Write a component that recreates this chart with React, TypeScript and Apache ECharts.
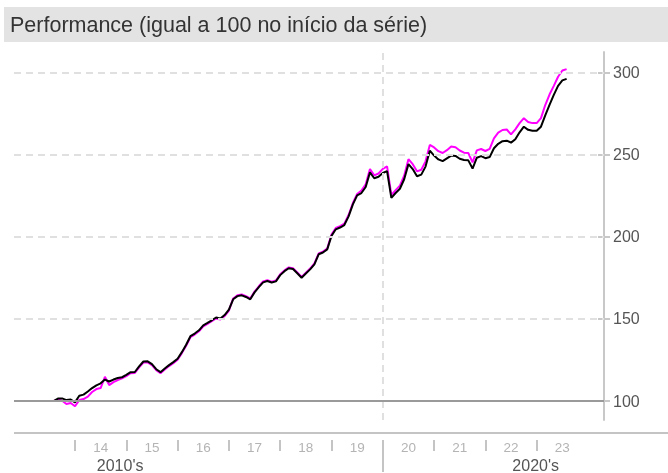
import { useEffect, useRef } from "react";
import * as echarts from "echarts";

// Monthly series, first point = Aug 2013
const START_YEAR = 2013;
const START_MONTH = 8;

const carteira = [
  100.0, 101.5, 101.6, 100.6, 100.9, 99.2, 103.2, 103.9, 105.8, 107.9, 109.6, 110.8,
  113.1, 111.9, 113.1, 114.0, 114.5, 115.9, 117.6, 117.7, 121.1, 124.1, 124.2, 122.5,
  119.4, 117.6, 119.8, 121.9, 123.7, 125.8, 129.8, 134.3, 139.5, 141.1, 143.1, 146.1,
  147.6, 149.2, 150.9, 150.3, 152.4, 155.7, 162.0, 163.9, 164.4, 163.4, 162.0, 166.2,
  169.4, 172.3, 173.1, 172.2, 172.9, 176.7, 179.1, 180.9, 180.4, 177.8, 175.1, 177.7,
  180.2, 183.3, 189.4, 190.5, 192.4, 200.6, 204.6, 205.7, 207.2, 212.5, 219.8, 225.3,
  226.7, 230.4, 239.3, 235.7, 236.6, 238.9, 240.0, 223.8, 226.7, 229.3, 235.1, 244.3,
  241.3, 236.9, 237.9, 242.8, 252.5, 249.5, 247.2, 246.1, 247.8, 249.5, 249.3, 247.6,
  246.8, 246.6, 241.6, 248.2, 249.2, 247.9, 248.6, 254.0, 256.7, 258.3, 258.6, 257.4,
  259.5, 263.7, 267.1, 265.2, 264.6, 264.6, 267.1, 274.0, 280.4, 286.5, 292.0, 295.3,
  296.2,
];

const referencia = [
  100.0, 100.8, 100.2, 98.2, 98.8, 96.8, 100.6, 101.2, 102.7, 105.5, 107.3, 107.9,
  114.8, 109.7, 111.5, 112.8, 113.8, 115.2, 117.0, 117.1, 120.5, 123.5, 123.6, 121.9,
  118.8, 117.0, 119.2, 121.3, 123.1, 125.2, 129.2, 133.7, 138.9, 140.5, 142.5, 145.5,
  147.0, 148.6, 150.3, 149.7, 151.8, 155.1, 162.5, 164.4, 164.9, 163.9, 162.5, 166.7,
  169.9, 172.8, 173.6, 172.7, 173.4, 177.2, 179.6, 181.4, 180.9, 178.3, 175.6, 178.2,
  180.7, 183.8, 189.9, 191.0, 192.9, 201.4, 205.4, 206.5, 208.0, 213.3, 220.6, 226.1,
  228.2, 232.0, 241.3, 237.5, 238.6, 241.4, 242.9, 225.5, 228.5, 231.2, 237.3, 247.3,
  244.3, 239.9, 240.9, 246.0, 256.0, 254.5, 252.2, 251.1, 252.8, 255.0, 254.6, 252.6,
  251.3, 251.1, 245.4, 252.7, 253.5, 252.3, 253.6, 260.0, 263.5, 265.1, 265.4, 262.4,
  265.5, 269.3, 272.3, 270.0, 269.3, 269.3, 272.3, 280.3, 286.7, 292.0, 297.5, 301.3,
  302.2,
];

const yTicks = [100, 150, 200, 250, 300];
const yearTicks = [2014, 2015, 2016, 2017, 2018, 2019, 2020, 2021, 2022, 2023];
const decadeBreak = 2020;
const decadeLabels = ["2010's", "2020's"];
const decadePositions = [2014.88, 2022.98];
const titleText = "Performance (igual a 100 no início da série)";

const X_MIN = 2012.811;
const X_MAX = 2024.312;
const Y_MIN = 88.46;
const Y_MAX = 312.6;

const FONT = '"Liberation Sans", Arial, Helvetica, sans-serif';

export default function App() {
  const ref = useRef<HTMLDivElement>(null);

  useEffect(() => {
    if (!ref.current) return;
    const chart = echarts.init(ref.current, undefined, { renderer: "svg" });

    const times = carteira.map((_, i) => START_YEAR + (START_MONTH - 1 + i) / 12);
    const blackData = carteira.map((v, i) => [times[i], v]);
    const pinkData = referencia.map((v, i) => [times[i], v]);

    const minorTicks = yearTicks.filter((y) => y !== decadeBreak);
    const labelPos = yearTicks.map((y) => y + 0.5);

    const gridDash = { color: "#e0e0e0", width: 2, type: [7, 5] as any };

    chart.setOption({
      animation: false,
      textStyle: { fontFamily: FONT },
      grid: { left: 14, right: 64, top: 52, bottom: 52 },
      graphic: [
        {
          type: "rect",
          shape: { x: 4, y: 7, width: 664, height: 35 },
          style: { fill: "#e3e3e3" },
          silent: true,
        },
        {
          type: "text",
          x: 10,
          y: 25,
          style: {
            text: titleText,
            fill: "#333333",
            font: `21.5px ${FONT}`,
            verticalAlign: "middle",
          },
          silent: true,
        },
        {
          type: "line",
          shape: { x1: 14, y1: 433, x2: 668, y2: 433 },
          style: { stroke: "#c4c4c4", lineWidth: 2 },
          silent: true,
        },
      ],
      xAxis: [
        {
          type: "value",
          min: X_MIN,
          max: X_MAX,
          position: "bottom",
          offset: 12,
          axisLine: { show: false },
          axisTick: { show: false },
          splitLine: { show: false },
          axisLabel: {
            customValues: labelPos,
            formatter: (v: number) => String(Math.floor(v)).slice(2),
            color: "#b4b4b4",
            fontSize: 13.5,
            margin: 8,
            fontFamily: FONT,
          },
        },
        {
          type: "value",
          min: X_MIN,
          max: X_MAX,
          position: "bottom",
          offset: 20,
          axisLine: { show: false },
          axisTick: {
            show: true,
            customValues: minorTicks,
            length: 11,
            lineStyle: { color: "#c4c4c4", width: 2 },
          },
          splitLine: { show: false },
          axisLabel: {
            customValues: decadePositions,
            formatter: (v: number) => (v < decadeBreak ? decadeLabels[0] : decadeLabels[1]),
            color: "#555555",
            fontSize: 16,
            margin: 17,
            fontFamily: FONT,
          },
        },
        {
          type: "value",
          min: X_MIN,
          max: X_MAX,
          position: "bottom",
          offset: 20,
          axisLine: { show: false },
          axisTick: {
            show: true,
            customValues: [decadeBreak],
            length: 32,
            lineStyle: { color: "#c4c4c4", width: 2 },
          },
          splitLine: { show: false },
          axisLabel: { show: false },
        },
      ],
      yAxis: [
        {
          type: "value",
          min: Y_MIN,
          max: Y_MAX,
          position: "right",
          axisLine: { show: true, lineStyle: { color: "#c8c8c8", width: 2 } },
          axisTick: {
            show: true,
            customValues: yTicks,
            length: 6,
            lineStyle: { color: "#c8c8c8", width: 2 },
          },
          splitLine: { show: false },
          axisLabel: {
            customValues: yTicks,
            color: "#555555",
            fontSize: 16,
            margin: 9,
            fontFamily: FONT,
          },
        },
        {
          type: "value",
          min: Y_MIN,
          max: Y_MAX,
          position: "right",
          axisLine: { show: false },
          axisTick: {
            show: true,
            inside: true,
            customValues: yTicks,
            length: 6,
            lineStyle: { color: "#c8c8c8", width: 2 },
          },
          splitLine: { show: false },
          axisLabel: { show: false },
        },
      ],
      series: [
        {
          name: "grade",
          type: "line",
          data: [],
          z: 1,
          silent: true,
          markLine: {
            silent: true,
            symbol: "none",
            label: { show: false },
            animation: false,
            data: [
              ...yTicks
                .filter((v) => v !== 100)
                .map((v) => ({ yAxis: v, lineStyle: gridDash })),
              { xAxis: decadeBreak, lineStyle: gridDash },
              { yAxis: 100, lineStyle: { color: "#9a9a9a", width: 2, type: "solid" } },
            ],
          },
        },
        {
          name: "Referência",
          type: "line",
          data: pinkData,
          z: 2,
          showSymbol: false,
          symbol: "none",
          lineStyle: { color: "#ff00ff", width: 2 },
          itemStyle: { color: "#ff00ff" },
        },
        {
          name: "Carteira",
          type: "line",
          data: blackData,
          z: 3,
          showSymbol: false,
          symbol: "none",
          lineStyle: { color: "#000000", width: 2 },
          itemStyle: { color: "#000000" },
        },
      ],
    });

    return () => chart.dispose();
  }, []);

  return (
    <div
      ref={ref}
      style={{ position: "fixed", left: 0, top: 0, width: 668, height: 473 }}
    />
  );
}
